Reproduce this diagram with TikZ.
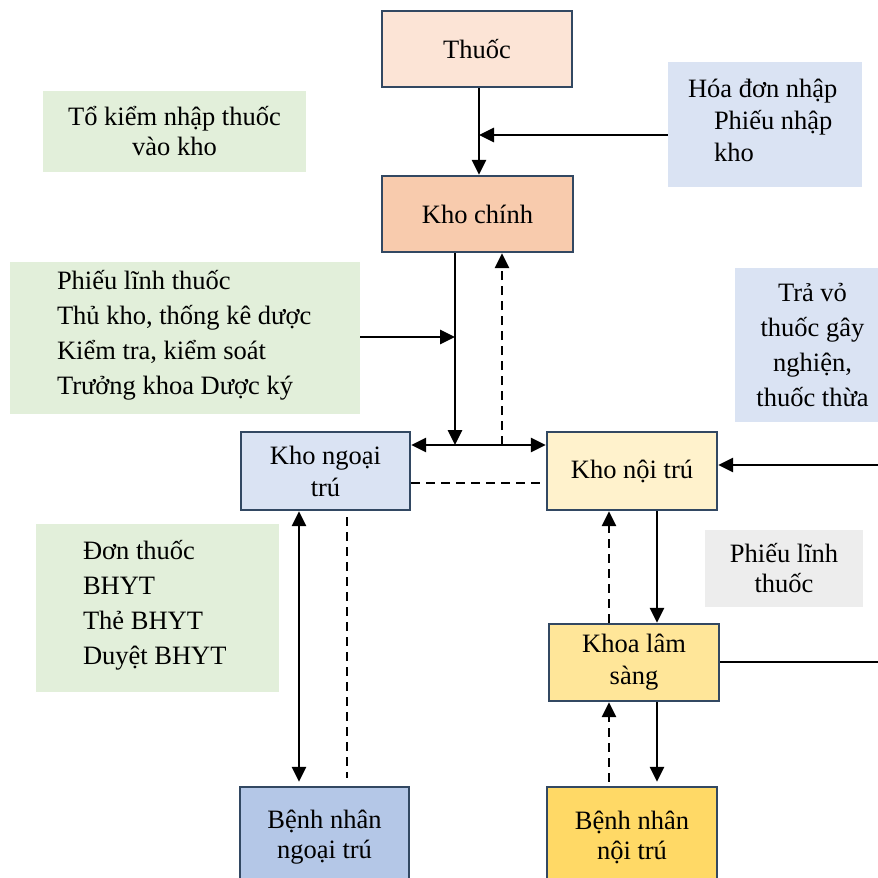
\documentclass[tikz,border=0pt]{standalone}
\usepackage{fontspec}
\setmainfont{Liberation Serif}
\usetikzlibrary{arrows.meta}
\definecolor{bord}{RGB}{50,72,98}
\definecolor{peach}{RGB}{252,228,214}
\definecolor{orangel}{RGB}{248,203,173}
\definecolor{bluel}{RGB}{218,227,243}
\definecolor{bluem}{RGB}{180,199,231}
\definecolor{yell}{RGB}{255,242,204}
\definecolor{yelm}{RGB}{255,230,153}
\definecolor{yeld}{RGB}{255,217,102}
\definecolor{greenl}{RGB}{226,239,218}
\definecolor{grayl}{RGB}{237,237,237}
\begin{document}
\begin{tikzpicture}[x=1pt,y=-1pt,
  kbox/.style={draw=bord,line width=2.4pt,inner sep=0pt,align=center,font=\fontsize{26.5}{32}\selectfont},
  tbox/.style={inner sep=0pt,align=center,font=\fontsize{26.5}{31}\selectfont},
  ltext/.style={inner sep=0pt,align=left,font=\fontsize{26.5}{35}\selectfont},
  con/.style={line width=2.7pt},
  arr/.style={con,-{Triangle[length=15pt,width=14pt]}},
  arrs/.style={con,{Triangle[length=15pt,width=14pt]}-{Triangle[length=15pt,width=14pt]}},
  dcon/.style={con,dash pattern=on 9pt off 6pt},
  darr/.style={arr,dash pattern=on 9pt off 6pt}]
\useasboundingbox (0,0) rectangle (878,878);
\clip (0,0) rectangle (878,878);
% text boxes (no border)
\node[tbox,fill=greenl,minimum width=263pt,minimum height=81pt,font=\fontsize{26.5}{30}\selectfont] (tokiem) at (174.5,131.5) {Tổ kiểm nhập thuốc\\vào kho};
\node[tbox,fill=bluel,minimum width=194pt,minimum height=125pt] (hoadon) at (765,124.5) {};
\node[ltext,anchor=west,font=\fontsize{26.5}{32}\selectfont] (hoadontext) at ([xshift=20pt,yshift=4.5pt]hoadon.west) {Hóa đơn nhập\\\hspace*{26pt}Phiếu nhập\\\hspace*{26pt}kho};
\node[tbox,fill=greenl,minimum width=350pt,minimum height=152pt] (phieu) at (185,338) {};
\node[ltext,anchor=west] (phieutext) at ([xshift=47pt,yshift=3pt]phieu.west) {Phiếu lĩnh thuốc\\Thủ kho, thống kê dược\\Kiểm tra, kiểm soát\\Trưởng khoa Dược ký};
\node[tbox,fill=bluel,minimum width=155pt,minimum height=154pt,font=\fontsize{26.5}{35}\selectfont] (travo) at (812.5,345) {Trả vỏ\\thuốc gây\\nghiện,\\thuốc thừa};
\node[tbox,fill=grayl,minimum width=158pt,minimum height=77pt,font=\fontsize{26.5}{30}\selectfont] (phieugray) at (784,568.5) {Phiếu lĩnh\\thuốc};
\node[tbox,fill=greenl,minimum width=243pt,minimum height=168pt] (don) at (157.5,608) {};
\node[ltext,anchor=west] (dontext) at ([xshift=47pt,yshift=3pt]don.west) {Đơn thuốc\\BHYT\\Thẻ BHYT\\Duyệt BHYT};
% main boxes
\node[kbox,fill=peach,minimum width=190pt,minimum height=76pt] (thuoc) at (477,49) {Thuốc};
\node[kbox,fill=orangel,minimum width=191pt,minimum height=76pt] (khochinh) at (477.5,214) {Kho chính};
\node[kbox,fill=bluel,minimum width=169pt,minimum height=78pt] (khongoai) at (325.5,471) {Kho ngoại\\trú};
\node[kbox,fill=yell,minimum width=170pt,minimum height=78pt] (khonoi) at (632,471) {Kho nội trú};
\node[kbox,fill=yelm,minimum width=170pt,minimum height=77pt] (khoals) at (634,662.5) {Khoa lâm\\sàng};
\node[kbox,fill=bluem,minimum width=169pt,minimum height=100pt,font=\fontsize{26.5}{30}\selectfont] (bnngoai) at (324.5,837) {Bệnh nhân\\ngoại trú};
\node[kbox,fill=yeld,minimum width=170pt,minimum height=100pt,font=\fontsize{26.5}{30}\selectfont] (bnnoi) at (632,837) {Bệnh nhân\\nội trú};
% junction coordinates
\coordinate (j1) at (479,135);
\coordinate (j2) at (455,445);
\coordinate (j3) at (502,445);
\coordinate (j4) at (0,483);
\coordinate (j5) at (455,337);
\coordinate (r1) at (878,465);
\coordinate (r2) at (878,662);
\coordinate (c1) at (657,0);
\coordinate (c2) at (609,0);
\coordinate (c3) at (299,0);
\coordinate (c4) at (347,0);
% connectors
\draw[arr] (thuoc.south -| j1) -- (khochinh.north -| j1);
\draw[arr] (hoadon.west |- j1) -- (j1);
\draw[arr] (khochinh.south -| j2) -- (j2);
\draw[darr] (j3) -- (khochinh.south -| j3);
\draw[arr] (phieu.east |- j5) -- (j5);
\draw[arrs] (khongoai.east |- j2) -- (khonoi.west |- j2);
\draw[dcon] (khongoai.east |- j4) -- (khonoi.west |- j4);
\draw[arr] (r1) -- (khonoi.east |- r1);
\draw[arr] (khonoi.south -| c1) -- (khoals.north -| c1);
\draw[darr] (khoals.north -| c2) -- (khonoi.south -| c2);
\draw[con] (khoals.east |- r2) -- (r2);
\draw[arr,shorten >=4pt] (khoals.south -| c1) -- (bnnoi.north -| c1);
\draw[darr,shorten <=4pt] (bnnoi.north -| c2) -- (khoals.south -| c2);
\draw[arrs,shorten >=4pt] (khongoai.south -| c3) -- (bnngoai.north -| c3);
\draw[dcon,shorten <=6pt,shorten >=8pt] (khongoai.south -| c4) -- (bnngoai.north -| c4);
\end{tikzpicture}
\end{document}
